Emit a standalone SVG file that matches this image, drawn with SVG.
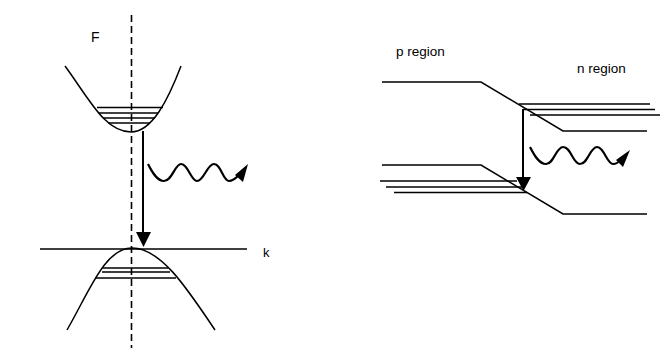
<svg xmlns="http://www.w3.org/2000/svg" width="670" height="350" viewBox="0 0 670 350">
<style>
.ln{fill:none;stroke:#000;stroke-width:1.5}
.ar{fill:none;stroke:#000;stroke-width:2}
.wv{fill:none;stroke:#000;stroke-width:2.2}
.hd{fill:#000;stroke:none}
.dash{fill:none;stroke:#000;stroke-width:1.6;stroke-dasharray:7,4}
.t{font-family:"Liberation Sans",Arial,sans-serif;fill:#000}
</style>
<rect width="670" height="350" fill="#fff"/>
<g id="left-bands">
  <g id="axis">
    <line class="dash" x1="131.5" y1="15" x2="131.5" y2="348"/>
    <line class="ln" x1="40" y1="249" x2="247" y2="249"/>
    <text class="t" x="91" y="42" font-size="14">F</text>
    <text class="t" x="263" y="257" font-size="13">k</text>
  </g>
  <g id="conduction-band">
    <path class="ln" d="M65,66 C90,100 105,132 131,132 C152,132 168,100 181,66"/>
    <line class="ln" x1="97" y1="107.5" x2="163" y2="107.5"/>
    <line class="ln" x1="98" y1="113" x2="158" y2="113"/>
    <line class="ln" x1="103" y1="118" x2="155" y2="118"/>
    <line class="ln" x1="108" y1="123" x2="150" y2="123"/>
  </g>
  <g id="valence-band">
    <path class="ln" d="M67,330 C90,290 105,248 132,248 C160,248 185,285 215,330"/>
    <line class="ln" x1="102" y1="268" x2="168" y2="268"/>
    <line class="ln" x1="102" y1="272" x2="170" y2="272"/>
    <line class="ln" x1="95" y1="278" x2="176" y2="278"/>
  </g>
</g>
<g id="right-bands">
  <g id="upper-band">
    <polyline class="ln" points="382,82 481,82 563,131 647,131"/>
    <line class="ln" x1="519" y1="104" x2="650" y2="104"/>
    <line class="ln" x1="523" y1="109.5" x2="655" y2="109.5"/>
    <line class="ln" x1="530" y1="115" x2="660" y2="115"/>
  </g>
  <g id="lower-band">
    <polyline class="ln" points="382,165 481,165 563,214 647,214"/>
    <line class="ln" x1="380" y1="181" x2="517" y2="181"/>
    <line class="ln" x1="386" y1="187" x2="522" y2="187"/>
    <line class="ln" x1="394" y1="192.5" x2="527" y2="192.5"/>
  </g>
  <text class="t" x="396" y="56" font-size="13.5">p region</text>
  <text class="t" x="577" y="73" font-size="13.5">n region</text>
</g>
<g id="connectors">
  <line class="ar" x1="143" y1="131" x2="143" y2="236"/>
  <polygon class="hd" points="136,232 151,232 143.5,247"/>
  <path class="wv" d="M148,164 C152,172 157,181 164,181 C172,181 175,164 181,164 C188,164 191,181 197,181 C204,181 207,164 214,164 C221,164 223,181 229,181 C233,181 236,178 239,175"/>
  <polygon class="hd" points="248,164 235,175 243,182"/>
  <line class="ar" x1="523" y1="109" x2="523" y2="180"/>
  <polygon class="hd" points="516,177 531,177 523.5,191"/>
  <path class="wv" d="M530,147 C534,155 539,164 546,164 C554,164 556,147 563,147 C571,147 573,164 580,164 C588,164 590,147 597,147 C604,147 607,164 613,164 C617,164 619,162 621,159"/>
  <polygon class="hd" points="630,150 616,160 623,167"/>
</g>
</svg>
